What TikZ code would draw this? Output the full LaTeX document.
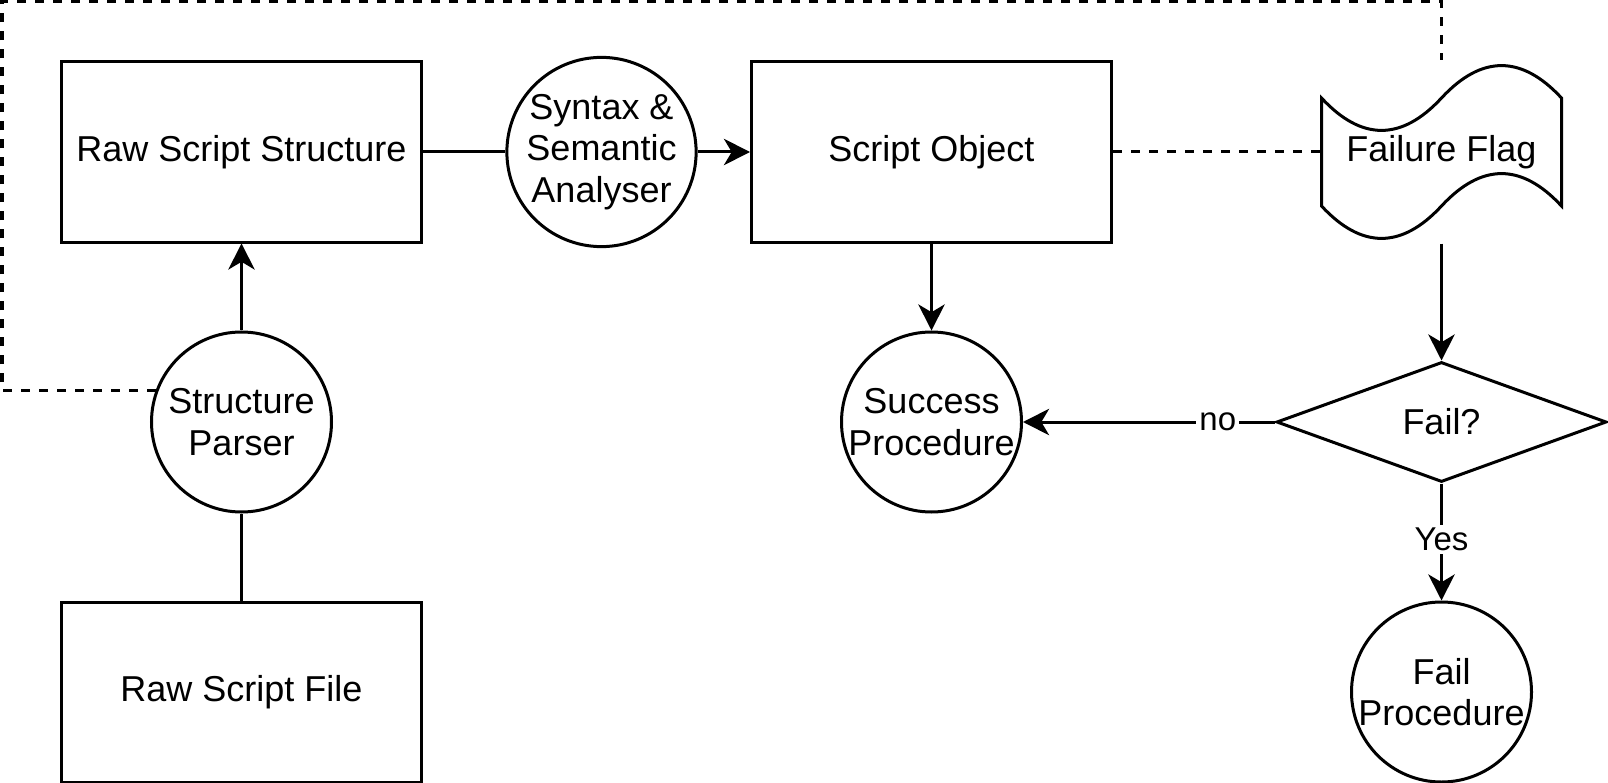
\documentclass[tikz,border=0pt]{standalone}
\usepackage{fontspec}
\setmainfont{Liberation Sans}
\usetikzlibrary{arrows.meta,shapes.geometric}
\begin{document}
\begin{tikzpicture}[x=0.33333pt,y=-0.33333pt, line width=1pt,
  font=\fontsize{12}{13.8}\selectfont,
  box/.style={draw, rectangle, minimum width=120pt, minimum height=60pt, align=center, inner sep=0pt},
  proc/.style={draw, circle, minimum size=60pt, align=center, inner sep=0pt},
  dec/.style={draw, diamond, minimum width=110pt, minimum height=40pt, inner sep=0pt, aspect=2.75},
  arr/.style={-{Stealth[length=8.7pt,width=8.8pt,inset=2.6pt]}},
  dsh/.style={dash pattern=on 3pt off 3pt},
  lbl/.style={fill=white, font=\fontsize{11}{13}\selectfont, inner sep=1pt}
]
\useasboundingbox (0,0) rectangle (1608,783);

\node[box]  (rss)   at (241.5,152) {Raw Script Structure};
\node[proc] (syn)   at (601.5,152) {Syntax \&\\Semantic\\Analyser};
\node[box]  (so)    at (931.5,152) {Script Object};
\node[minimum width=80pt, minimum height=60pt, inner sep=0pt] (flag) at (1441.5,152) {Failure Flag};
\draw (1321.5,98) .. controls (1361.5,141.2) and (1401.5,141.2) .. (1441.5,98)
      .. controls (1481.5,54.8) and (1521.5,54.8) .. (1561.5,98)
      -- (1561.5,206)
      .. controls (1521.5,162.8) and (1481.5,162.8) .. (1441.5,206)
      .. controls (1401.5,249.2) and (1361.5,249.2) .. (1321.5,206) -- cycle;
\node[proc] (par)   at (241.5,422) {Structure\\Parser};
\node[box]  (rsf)   at (241.5,692) {Raw Script File};
\node[proc] (succ)  at (931.5,422) {Success\\Procedure};
\node[dec]  (fail)  at (1441.5,422) {Fail?};
\node[proc] (failp) at (1441.5,692) {Fail\\Procedure};

\coordinate (tl) at (2,1.5);

\draw (rss.east) -- (syn.west);
\draw[arr] (syn.east) -- (so.west);
\draw[arr] (par.north) -- (rss.south);
\draw (rsf.north) -- (par.south);
\draw[arr] (so.south) -- (succ.north);
\draw[arr] (flag.south) -- (fail.north);
\draw[arr] (fail.west) -- node[lbl, pos=0.227] {no} (succ.east);
\draw[arr] (fail.south) -- node[lbl, pos=0.48] {Yes} (failp.north);
\draw[dsh] (so.east) -- (flag.west);
\draw[dsh] (par.160) -| (tl) -| (flag.north);
\end{tikzpicture}
\end{document}
